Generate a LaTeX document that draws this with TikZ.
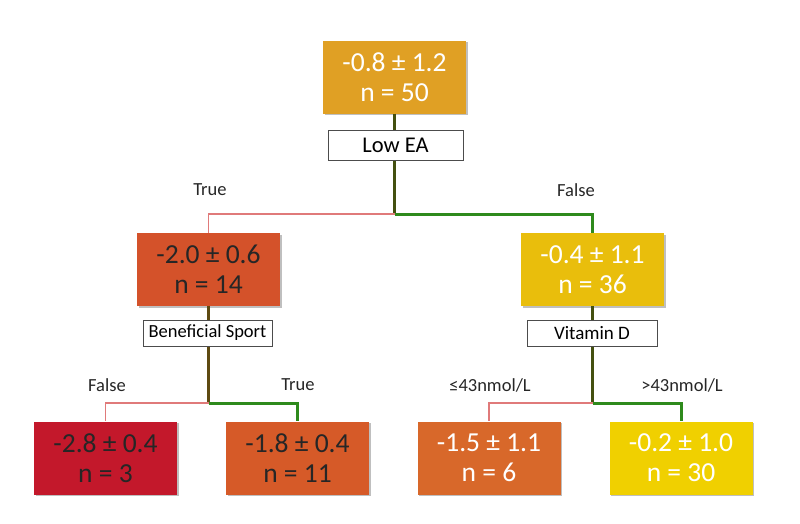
\documentclass[tikz,border=0pt]{standalone}
\usepackage{fontspec}
\setmainfont{Carlito}
\usetikzlibrary{shadows}
\definecolor{cRoot}{HTML}{E0A024}
\definecolor{cL}{HTML}{D4522A}
\definecolor{cR}{HTML}{E9BE0C}
\definecolor{cLL}{HTML}{C3182B}
\definecolor{cLR}{HTML}{D65A28}
\definecolor{cRL}{HTML}{D8682A}
\definecolor{cRR}{HTML}{F0D000}
\definecolor{redline}{HTML}{E07A7A}
\definecolor{greenline}{HTML}{2E8A1C}
\definecolor{stemA}{HTML}{445010}
\definecolor{stemB}{HTML}{5E4A12}
\tikzset{
  x=1pt, y=-1pt,
  leaf/.style={rectangle, minimum width=143pt, minimum height=73pt, inner sep=0pt,
    align=center, font=\fontsize{27.5}{30}\selectfont,
    drop shadow={shadow xshift=1.5pt, shadow yshift=-1.5pt, opacity=0.25, fill=black}},
  qbox/.style={rectangle, draw=black!70, line width=0.8pt, fill=white, inner sep=0pt},
  lab/.style={font=\fontsize{18.5}{20}\selectfont, text=black!85},
  falseedge/.style={draw=redline, line width=1.3pt},
  trueedge/.style={draw=greenline, line width=3pt},
  stem/.style={line width=3pt}
}
\begin{document}
\begin{tikzpicture}
\useasboundingbox (0,0) rectangle (800,523);
% nodes
\node[leaf, fill=cRoot, text=white] (root) at (394.5,77) {-0.8 ± 1.2\\n = 50};
\node[leaf, fill=cL, text=black!85] (l) at (208.5,269.5) {-2.0 ± 0.6\\n = 14};
\node[leaf, fill=cR, text=white] (r) at (592.5,269.5) {-0.4 ± 1.1\\n = 36};
\node[leaf, fill=cLL, text=black!85] (ll) at (105.5,458) {-2.8 ± 0.4\\n = 3};
\node[leaf, fill=cLR, text=black!85] (lr) at (297.5,458) {-1.8 ± 0.4\\n = 11};
\node[leaf, fill=cRL, text=white] (rl) at (489,458) {-1.5 ± 1.1\\n = 6};
\node[leaf, fill=cRR, text=white] (rr) at (681,458) {-0.2 ± 1.0\\n = 30};
% split coordinates
\coordinate (s0) at (394.5,214);
\coordinate (s1) at (208.5,403);
\coordinate (s2) at (592.5,403);
\coordinate (t0l) at (208.5,214);
\coordinate (t0r) at (592.5,214);
\coordinate (t1l) at (105.5,403);
\coordinate (t1r) at (297.5,403);
\coordinate (t2l) at (489,403);
\coordinate (t2r) at (681,403);
% edges
\draw[falseedge] (s0) -- (t0l) -- (l.north);
\draw[trueedge] (s0) -- (t0r) -- (r.north);
\draw[falseedge] (s1) -- (t1l) -- (ll.north);
\draw[trueedge] (s1) -- (t1r) -- (lr.north);
\draw[falseedge] (s2) -- (t2l) -- (rl.north);
\draw[trueedge] (s2) -- (t2r) -- (rr.north);
\draw[stem, draw=stemA] (root.south) -- ([yshift=1.5pt]s0);
\draw[stem, draw=stemB] (l.south) -- ([yshift=1.5pt]s1);
\draw[stem, draw=stemA] (r.south) -- ([yshift=1.5pt]s2);
% question boxes
\node[qbox, minimum width=135pt, minimum height=30pt, font=\fontsize{22.5}{24}\selectfont] (q0) at (395.5,145) {Low EA};
\node[qbox, minimum width=129pt, minimum height=26pt, font=\fontsize{18.5}{20}\selectfont] (q1) at (207.5,333) {Beneficial Sport};
\node[qbox, minimum width=130pt, minimum height=26pt, font=\fontsize{19}{20}\selectfont] (q2) at (592,333) {Vitamin D};
% labels
\node[lab] (lt0) at (210,190) {True};
\node[lab] (lf0) at (576,190) {False};
\node[lab] (lf1) at (107,385) {False};
\node[lab] (lt1) at (298,385) {True};
\node[lab] (ll2) at (490,385) {≤43nmol/L};
\node[lab] (lr2) at (682,385) {>43nmol/L};
\end{tikzpicture}
\end{document}
